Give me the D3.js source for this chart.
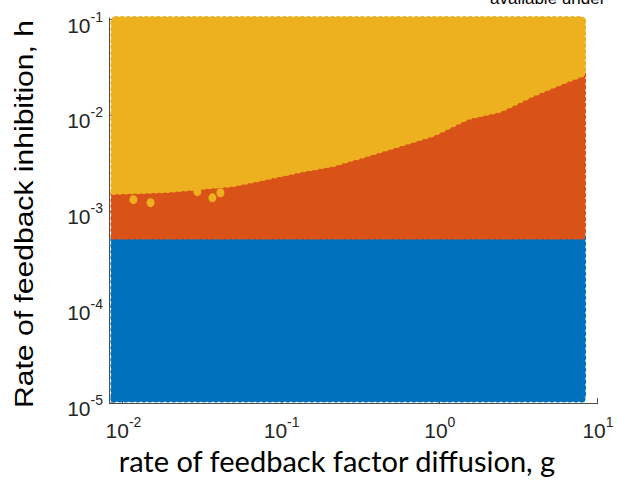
<!DOCTYPE html>
<html>
<head>
<meta charset="utf-8">
<script src="https://cdn.jsdelivr.net/npm/d3@7"></script>
<style>
  html, body { margin: 0; padding: 0; background: #fff; }
  svg { display: block; }
</style>
</head>
<body>
<svg id="chart" width="619" height="488"></svg>
<script>
// ---- data ----
const xTicks = [0.01, 0.1, 1, 10];
const xTickExps = ["-2", "-1", "0", "1"];
const yTicks = [1e-5, 1e-4, 1e-3, 1e-2, 1e-1];
const yTickExps = ["-5", "-4", "-3", "-2", "-1"];

// sampled parameter ranges
const gRange = [0.0087, 8.0];
const hRange = [1.1e-5, 0.1];
// blue / orange boundary (constant h)
const hBlueTop = 5.5e-4;
// orange / yellow boundary
const boundaryG = [0.0087, 0.019, 0.0495, 0.081, 0.131, 0.212, 0.348, 0.562, 0.908, 1.49, 2.41, 3.89, 6.38, 8.0];
const boundaryH = [1.61e-3, 1.68e-3, 1.94e-3, 2.30e-3, 2.72e-3, 3.15e-3, 4.0e-3, 5.1e-3, 6.5e-3, 9.7e-3, 1.16e-2, 1.70e-2, 2.38e-2, 2.74e-2];
// isolated yellow points inside the orange band
const strayG = [0.01156, 0.01483, 0.0293, 0.0365, 0.0410];
const strayH = [1.32e-3, 1.23e-3, 1.60e-3, 1.38e-3, 1.56e-3];

const colors = { blue: "#0072BD", orange: "#D95319", yellow: "#EDB120" };

// ---- layout ----
const svg = d3.select("#chart");
const x = d3.scaleLog().domain([0.0081, 10]).range([109, 598]);
const y = d3.scaleLog().domain([1e-5, 1e-1]).range([403, 19.5]);

// ---- axes (drawn below data, like MATLAB) ----
const axisColor = "#4d4d4d";
const axG = svg.append("g");
axG.append("line").attr("x1", x.range()[0]).attr("x2", x.range()[1])
  .attr("y1", 403.5).attr("y2", 403.5).attr("stroke", axisColor).attr("stroke-width", 1);
axG.append("line").attr("x1", 109.5).attr("x2", 109.5)
  .attr("y1", 403.5).attr("y2", y(1e-1) - 2).attr("stroke", axisColor).attr("stroke-width", 1);
xTicks.forEach(t => {
  axG.append("line").attr("x1", Math.round(x(t)) - 0.5).attr("x2", Math.round(x(t)) - 0.5)
    .attr("y1", 403.5).attr("y2", 398).attr("stroke", axisColor).attr("stroke-width", 1);
});
yTicks.forEach(t => {
  axG.append("line").attr("x1", 109.5).attr("x2", 115)
    .attr("y1", y(t)).attr("y2", y(t)).attr("stroke", axisColor).attr("stroke-width", 1);
});

// ---- regions ----
const dotW = 7, dotGap = "0 6";
function region(pts, color) {
  const line = d3.line().x(d => x(d[0])).y(d => y(d[1]));
  const d = line(pts) + "Z";
  const g = svg.append("g");
  g.append("path").attr("d", d).attr("fill", color)
    .attr("stroke", color).attr("stroke-width", 5).attr("stroke-linejoin", "round");
  g.append("path").attr("d", d).attr("fill", "none")
    .attr("stroke", color).attr("stroke-width", dotW)
    .attr("stroke-linecap", "round").attr("stroke-dasharray", dotGap);
}

// blue band
region([[gRange[0], hRange[0]], [gRange[1], hRange[0]], [gRange[1], hBlueTop], [gRange[0], hBlueTop]], colors.blue);
// orange band
const orangePts = [[gRange[0], hBlueTop], [gRange[1], hBlueTop]];
for (let i = boundaryG.length - 1; i >= 0; i--) orangePts.push([boundaryG[i], boundaryH[i]]);
region(orangePts, colors.orange);
// yellow band
const yellowPts = boundaryG.map((g, i) => [g, boundaryH[i]]);
yellowPts.push([gRange[1], hRange[1]], [gRange[0], hRange[1]]);
region(yellowPts, colors.yellow);
// stray yellow points
svg.append("g").selectAll("ellipse").data(strayG.map((g, i) => [g, strayH[i]])).join("ellipse")
  .attr("cx", d => x(d[0])).attr("cy", d => y(d[1])).attr("rx", 4).attr("ry", 4.5)
  .attr("fill", colors.yellow);

// ---- tick labels ----
const tickFont = "'Liberation Sans', Arial, Helvetica, sans-serif";
const tickColor = "#262626";
xTicks.forEach((t, i) => {
  const txt = svg.append("text").attr("y", 438).attr("font-family", tickFont)
    .attr("fill", tickColor).attr("font-size", 21);
  txt.append("tspan").text("10");
  txt.append("tspan").attr("font-size", 14).attr("dy", -11).text(xTickExps[i]);
  const w = txt.node().getComputedTextLength();
  txt.attr("x", x(t) - w / 2);
});
yTicks.forEach((t, i) => {
  const txt = svg.append("text").attr("y", y(t) + 13).attr("font-family", tickFont)
    .attr("fill", tickColor).attr("font-size", 21);
  txt.append("tspan").text("10");
  txt.append("tspan").attr("font-size", 14).attr("dy", -11).text(yTickExps[i]);
  const w = txt.node().getComputedTextLength();
  txt.attr("x", 103 - w);
});

// ---- axis titles ----
const xl = svg.append("text").attr("x", 337).attr("y", 472)
  .attr("text-anchor", "middle").attr("font-family", "Lato, 'Open Sans', sans-serif")
  .attr("font-size", 29).attr("fill", "#000")
  .text("rate of feedback factor diffusion, g");
{
  const w = xl.node().getComputedTextLength();
  if (w > 437) xl.attr("textLength", 435).attr("lengthAdjust", "spacingAndGlyphs");
}
const yl = svg.append("text").attr("transform", "translate(33,214) rotate(-90)")
  .attr("text-anchor", "middle").attr("font-family", "'Liberation Sans', Arial, sans-serif")
  .attr("font-size", 26).attr("fill", "#000")
  .text("Rate of feedback inhibition, h");
{
  const w = yl.node().getComputedTextLength();
  if (Math.abs(w - 388) > 6) yl.attr("textLength", 388).attr("lengthAdjust", "spacingAndGlyphs");
}

// clipped caption at the top edge
svg.append("text").attr("x", 490).attr("y", 4).attr("font-family", "'Liberation Sans', Arial, sans-serif")
  .attr("font-size", 17).attr("fill", "#000").text("available under");
</script>
</body>
</html>
